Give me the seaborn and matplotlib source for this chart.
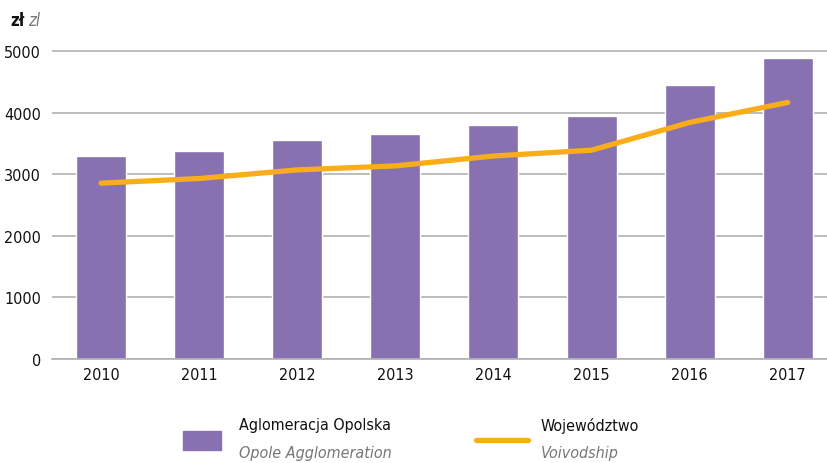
import numpy as np
import pandas as pd
import matplotlib
matplotlib.use("Agg")
import matplotlib.pyplot as plt
import seaborn as sns
from matplotlib.patches import Rectangle
from matplotlib.lines import Line2D

years = ["2010", "2011", "2012", "2013", "2014", "2015", "2016", "2017"]
aglomeracja = [3295, 3380, 3555, 3650, 3800, 3945, 4450, 4885]
wojewodztwo = [2855, 2930, 3070, 3135, 3295, 3390, 3840, 4165]

purple = "#8771B0"
orange = "#F9AD1A"

sns.set_style("white")
plt.rcParams["font.family"] = ["DejaVu Sans"]
plt.rcParams["font.stretch"] = "condensed"

df = pd.DataFrame({"rok": years, "aglo": aglomeracja, "woj": wojewodztwo, "pos": np.arange(len(years))})

fig = plt.figure(figsize=(8.27, 4.64), dpi=100)
ax = fig.add_axes([52 / 827, 1 - 360 / 464, (827 - 52) / 827, 320 / 464])

sns.barplot(data=df, x="rok", y="aglo", color=purple, width=0.51, saturation=1, ax=ax)
sns.lineplot(data=df, x="pos", y="woj", color=orange, linewidth=3.8, ax=ax,
             solid_capstyle="round")

ax.set_ylim(0, 5000 * 320 / 308)
ax.set_xlim(-0.5, 7.4)
ax.set_yticks([0, 1000, 2000, 3000, 4000, 5000])
ax.set_xticks(range(len(years)))
ax.set_xticklabels(years)
ax.yaxis.grid(True, color="#b0b0b0", linewidth=1.2)
ax.set_axisbelow(True)
for s in ["top", "right", "left"]:
    ax.spines[s].set_visible(False)
ax.spines["bottom"].set_color("#b0b0b0")
ax.spines["bottom"].set_linewidth(1.2)
ax.tick_params(axis="both", length=0, labelsize=11.5, colors="#111111", pad=6)
ax.tick_params(axis="y", pad=8)
ax.set_xlabel("")
ax.set_ylabel("")

fig.text(10 / 827, 1 - 21 / 464, "zł", fontsize=12, color="#111111", va="center",
         fontweight="semibold")
fig.text(28 / 827, 1 - 21 / 464, "zl", fontsize=12, color="#777777", style="italic", va="center")

# legend
fig.add_artist(Rectangle((183 / 827, 1 - 451 / 464), 38 / 827, 19 / 464,
                         transform=fig.transFigure, color=purple))
fig.text(239 / 827, 1 - 426 / 464, "Aglomeracja Opolska", fontsize=11.5, color="#111111", va="center")
fig.text(239 / 827, 1 - 454 / 464, "Opole Agglomeration", fontsize=11.5, color="#777777",
         style="italic", va="center")
fig.add_artist(Line2D([476 / 827, 528 / 827], [1 - 441 / 464, 1 - 441 / 464],
                      transform=fig.transFigure, color=orange, linewidth=3.8,
                      solid_capstyle="round"))
fig.text(541 / 827, 1 - 426 / 464, "Województwo", fontsize=11.5, color="#111111", va="center")
fig.text(541 / 827, 1 - 454 / 464, "Voivodship", fontsize=11.5, color="#777777",
         style="italic", va="center")

fig.savefig("out.png", dpi=100)
